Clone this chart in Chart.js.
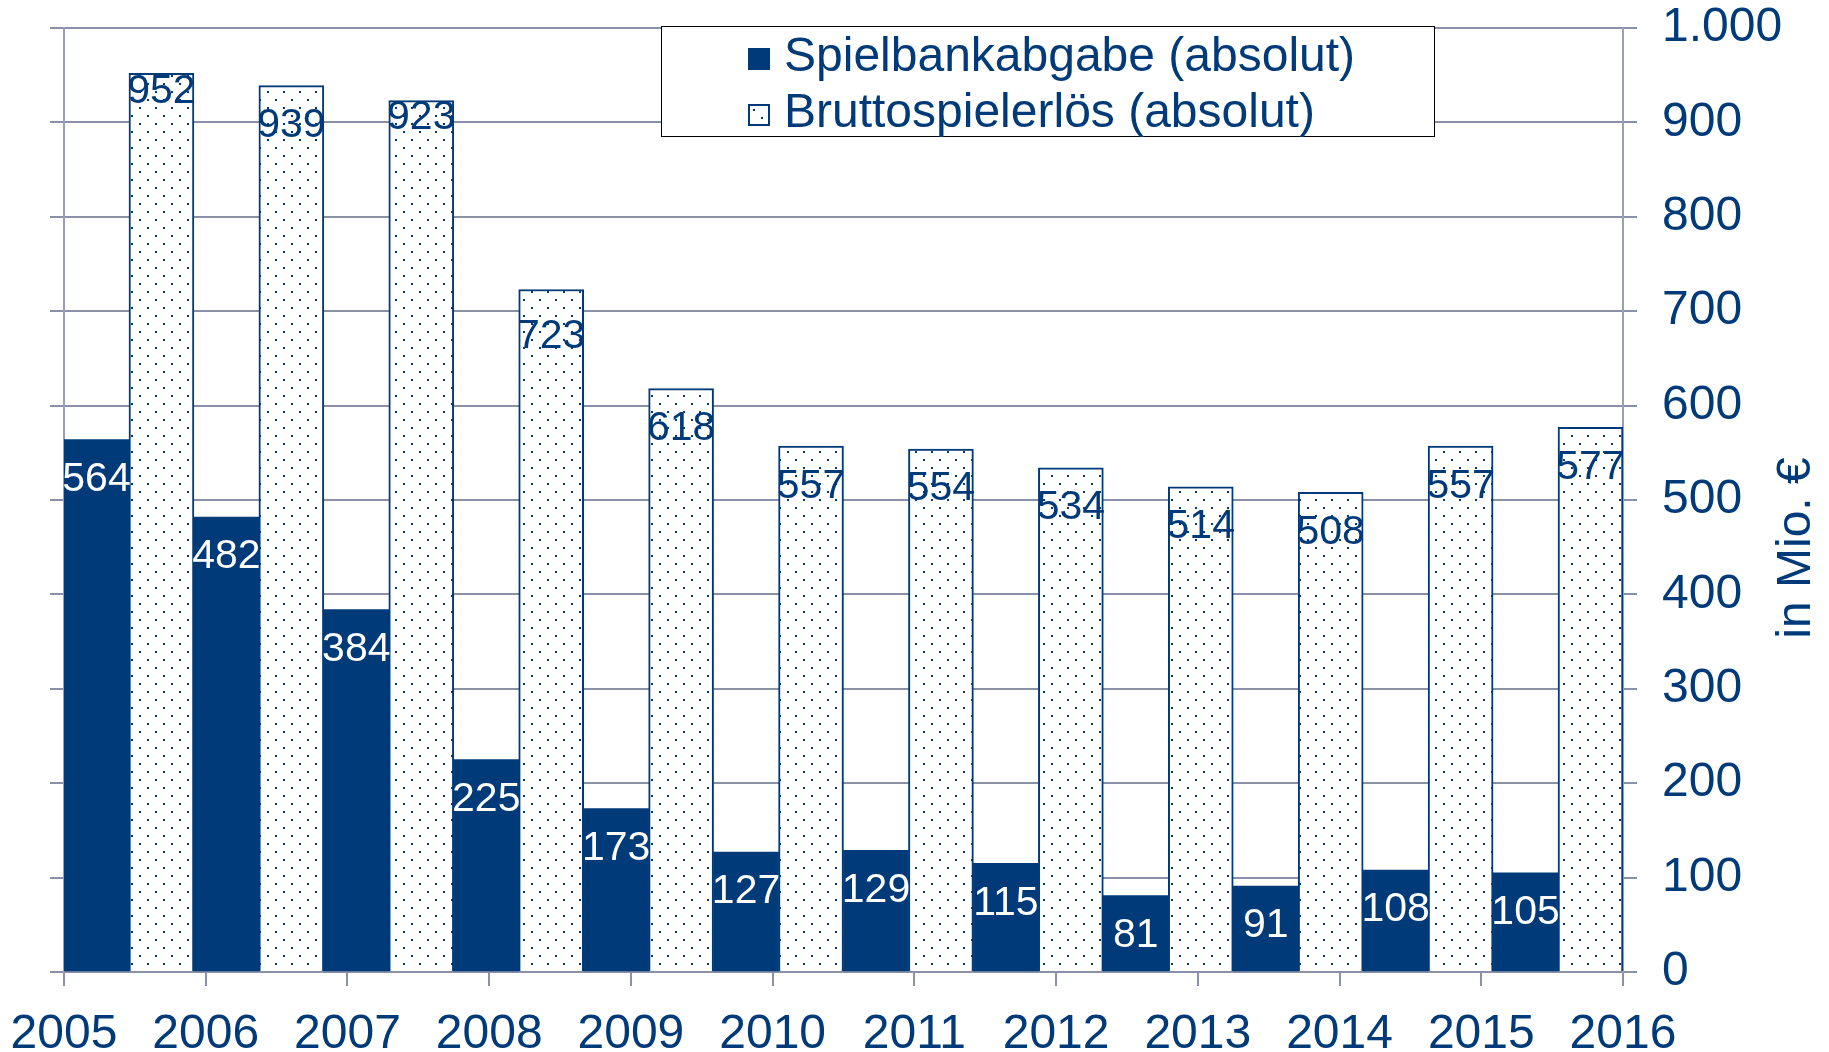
<!DOCTYPE html>
<html>
<head>
<meta charset="utf-8">
<script src="https://cdn.jsdelivr.net/npm/chart.js@4.4.1/dist/chart.umd.min.js"></script>
<style>
  body { margin: 0; background: #fff; }
  #wrap { position: relative; width: 1829px; height: 1052px; }
  #legend {
    position: absolute; left: 661px; top: 26px; width: 772px; height: 109px;
    border: 1.5px solid #000; background: #fff;
    font-family: "Liberation Sans", Arial, sans-serif; font-size: 48px; color: #003a78;
  }
  .item { position: absolute; left: 86px; height: 56px; line-height: 56px; white-space: nowrap; }
  .swatch { display: inline-block; width: 22px; height: 22px; margin-right: 14px; vertical-align: 1px; box-sizing: border-box; }
</style>
</head>
<body>
<div id="wrap">
  <canvas id="chart" width="1829" height="1052"></canvas>
  <div id="legend">
    <div class="item" style="top:0px"><span class="swatch" id="sw1"></span>Spielbankabgabe (absolut)</div>
    <div class="item" style="top:56px"><span class="swatch" id="sw2"></span>Bruttospielerlös (absolut)</div>
  </div>
</div>
<script>
// --- data ---
const years = ['2005', '2006', '2007', '2008', '2009', '2010', '2011', '2012', '2013', '2014', '2015', '2016'];
const spielbankabgabe = [564, 482, 384, 225, 173, 127, 129, 115, 81, 91, 108, 105];
const bruttospielerloes = [952, 939, 923, 723, 618, 557, 554, 534, 514, 508, 557, 577];
const xTickLabels = ['2005', '2006', '2007', '2008', '2009', '2010', '2011', '2012', '2013', '2014', '2015', '2016'];
const yTickLabels = ['0', '100', '200', '300', '400', '500', '600', '700', '800', '900', '1.000'];

const BLUE = '#003a78';
const GRID = '#8a91a7';
const FONT = '"Liberation Sans", Arial, sans-serif';

// dotted fill for Bruttospielerlös
const tile = document.createElement('canvas');
tile.width = 16; tile.height = 16;
const tctx = tile.getContext('2d');
tctx.fillStyle = '#fff';
tctx.fillRect(0, 0, 16, 16);
tctx.fillStyle = BLUE;
tctx.fillRect(3, 3, 2, 2);
tctx.fillRect(11, 11, 2, 2);
const dots = tctx.createPattern(tile, 'repeat');

document.getElementById('sw1').style.background = BLUE;
const sw2 = document.getElementById('sw2');
sw2.style.background = 'url(' + tile.toDataURL() + ')';
sw2.style.border = '2px solid ' + BLUE;

// value labels inside the bars
const valueLabels = {
  id: 'valueLabels',
  afterDatasetsDraw(chart, args, opts) {
    const ctx = chart.ctx;
    ctx.save();
    ctx.font = '41px ' + FONT;
    ctx.textAlign = 'center';
    ctx.textBaseline = 'middle';
    chart.data.datasets.forEach((ds, di) => {
      const meta = chart.getDatasetMeta(di);
      ctx.fillStyle = opts.colors[di];
      meta.data.forEach((bar, i) => {
        const nudge = (opts.nudge[di] || {})[i] ?? opts.offset;
        ctx.fillText(String(ds.data[i]), bar.x, bar.y + nudge);
      });
    });
    ctx.restore();
  }
};

// rotated axis title, reading bottom to top
const yTitle = {
  id: 'yTitle',
  afterDraw(chart) {
    const ctx = chart.ctx;
    ctx.save();
    ctx.translate(1797, 548);
    ctx.rotate(-Math.PI / 2);
    ctx.font = '48px ' + FONT;
    ctx.fillStyle = BLUE;
    ctx.textAlign = 'center';
    ctx.textBaseline = 'middle';
    ctx.fillText('in Mio. €', 0, 0);
    ctx.restore();
  }
};

const noPad = s => { s.paddingTop = 0; s.paddingBottom = 0; s.paddingLeft = 0; s.paddingRight = 0; };

new Chart(document.getElementById('chart').getContext('2d'), {
  type: 'bar',
  data: {
    labels: years,
    datasets: [
      {
        label: 'Spielbankabgabe (absolut)',
        data: spielbankabgabe,
        backgroundColor: BLUE,
        borderWidth: 0,
        categoryPercentage: 1,
        barPercentage: 1
      },
      {
        label: 'Bruttospielerlös (absolut)',
        data: bruttospielerloes,
        backgroundColor: dots,
        borderColor: BLUE,
        borderWidth: 2,
        categoryPercentage: 1,
        barPercentage: 1
      }
    ]
  },
  plugins: [valueLabels, yTitle],
  options: {
    responsive: false,
    animation: false,
    layout: { padding: { top: 28 } },
    plugins: {
      legend: { display: false },
      tooltip: { enabled: false },
      valueLabels: {
        colors: ['#fff', BLUE],
        offset: 40,
        nudge: { 1: { 0: 18, 2: 17, 3: 47 } }
      }
    },
    scales: {
      x: { type: 'category', display: false, offset: true },
      x2: {
        type: 'linear', position: 'bottom', min: 0, max: 11, offset: false,
        ticks: {
          stepSize: 1, autoSkip: false, maxRotation: 0, padding: 20,
          callback: v => xTickLabels[v],
          font: { size: 48, family: FONT }, color: BLUE
        },
        grid: { offset: false, drawOnChartArea: false, tickLength: 14, color: GRID, lineWidth: 2 },
        border: { display: false },
        afterFit: s => { s.height = 80; noPad(s); }
      },
      y: {
        position: 'right', min: 0, max: 1000,
        ticks: {
          stepSize: 100, padding: 25,
          callback: (v, i) => yTickLabels[i],
          font: { size: 48, family: FONT }, color: BLUE
        },
        grid: { color: GRID, lineWidth: 2, tickLength: 14 },
        border: { color: '#9aa0b3', width: 2 },
        afterFit: s => { s.width = 206; noPad(s); }
      },
      yl: {
        position: 'left', min: 0, max: 1000,
        ticks: { stepSize: 100, display: false },
        grid: { drawOnChartArea: false, tickLength: 14, color: GRID, lineWidth: 2 },
        border: { display: true, color: '#9aa0b3', width: 2 },
        afterFit: s => { s.width = 64; noPad(s); }
      }
    }
  }
});
</script>
</body>
</html>
